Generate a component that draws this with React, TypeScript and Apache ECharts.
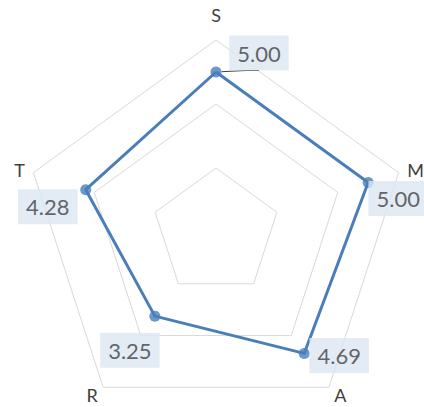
import React, { useEffect, useRef } from "react";
import * as echarts from "echarts";

const categories = ["S", "T", "R", "A", "M"];
const values = [5.0, 4.28, 3.25, 4.69, 5.0];
const axisMax = 6;
const labelOffsets: [number, number][] = [
  [43, -19],
  [-38, 17],
  [-25, 34],
  [35, 2],
  [30, 16],
];

const BLUE = "#4A7EBB";
const TEXT = "#404040";
const FONT = "Lato";
const CENTER: [number, number] = [216, 232];
const RADIUS = 192;

export default function App() {
  const ref = useRef<HTMLDivElement>(null);
  useEffect(() => {
    document.body.style.margin = "0";
    const chart = echarts.init(ref.current!, undefined, { renderer: "svg" });
    chart.setOption({
      animation: false,
      backgroundColor: "#ffffff",
      radar: {
        center: CENTER,
        radius: RADIUS,
        startAngle: 90,
        shape: "polygon",
        splitNumber: 3,
        indicator: categories.map((name) => ({ name, min: 0, max: axisMax })),
        axisNameGap: 9,
        axisName: {
          color: TEXT,
          fontSize: 18,
          fontFamily: FONT,
          formatter: (name: string) => (name === "S" ? "{top|S}" : name),
          rich: {
            top: { padding: [0, 0, 7, 0], fontSize: 18, fontFamily: FONT, color: TEXT },
          },
        },
        axisLine: { show: false },
        axisTick: { show: false },
        axisLabel: { show: false },
        splitArea: { show: false },
        splitLine: { lineStyle: { color: "#D9D9D9", width: 1 } },
      },
      polar: { center: CENTER, radius: RADIUS },
      angleAxis: {
        type: "category",
        data: categories,
        startAngle: 90,
        clockwise: false,
        boundaryGap: false,
        show: false,
      },
      radiusAxis: { type: "value", min: 0, max: axisMax, show: false },
      series: [
        {
          type: "radar",
          symbol: "none",
          lineStyle: { color: BLUE, width: 3 },
          data: [{ value: values }],
          z: 2,
        },
        {
          type: "scatter",
          coordinateSystem: "polar",
          symbol: "circle",
          symbolSize: 11,
          itemStyle: { color: BLUE },
          z: 3,
          label: {
            show: true,
            position: "inside",
            formatter: (p: any) => Number(p.value[0]).toFixed(2),
            color: TEXT,
            fontSize: 22,
            fontFamily: FONT,
            backgroundColor: "#DCE6F2",
            padding: [7, 8, 6, 8],
          },
          labelLine: {
            show: false,
            length2: 13,
            lineStyle: { color: TEXT, width: 1 },
          },
          data: categories.map((c, i) => ({
            name: c,
            value: [values[i], i],
            label: { offset: labelOffsets[i] },
            labelLine: { show: i === 0 },
          })),
        },
      ],
    });
    return () => chart.dispose();
  }, []);
  return <div ref={ref} style={{ width: 424, height: 407 }} />;
}
